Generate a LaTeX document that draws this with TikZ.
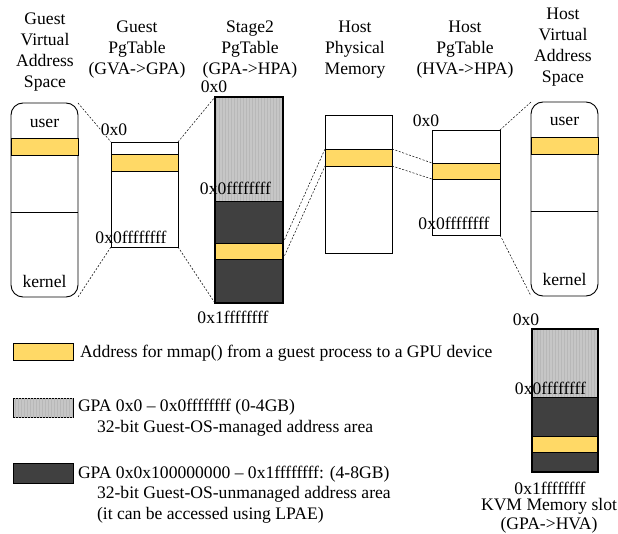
\documentclass[tikz,border=0pt]{standalone}
\usepackage{fontspec}
\setmainfont{Liberation Serif}
\usetikzlibrary{positioning,patterns}
\definecolor{mmapyellow}{RGB}{255,217,102}
\definecolor{gpadark}{RGB}{64,64,64}
\definecolor{gpagray}{RGB}{198,198,198}

\begin{document}
\begin{tikzpicture}[x=1pt,y=-1pt,
	every node/.style={font=\fontsize{17.6}{21}\selectfont, inner sep=0pt, outer sep=0pt},
	title/.style={align=center},
	region/.style={draw, line width=0.9pt},
	memmap/.style={region, fill=mmapyellow},
	lowmem/.style={region, fill=gpagray, postaction={pattern=vertical lines, pattern color=black!28}},
	highmem/.style={region, fill=gpadark},
	vaspace/.style={region, rounded corners=12pt},
	link/.style={dash pattern=on 2pt off 1.6pt, line width=0.5pt}]
	
	\useasboundingbox (0,0) rectangle (618,534);
	
	%% titles
	\node[title] (gvatitle) at (45,52.5) {Guest\\Virtual\\Address\\Space};
	\node[title] (gpttitle) at (137,49.5) {Guest\\PgTable\\(GVA->GPA)};
	\node[title] (s2title) at (250,49.5) {Stage2\\PgTable\\(GPA->HPA)};
	\node[title] (hpmtitle) at (355,49.5) {Host\\Physical\\Memory};
	\node[title] (hpttitle) at (465,49.5) {Host\\PgTable\\(HVA->HPA)};
	\node[title] (hvatitle) at (563,47.5) {Host\\Virtual\\Address\\Space};
	
	%% guest virtual address space
	\node[vaspace, minimum width=67, minimum height=194] (gva) at (44.5,200) {};
	\node[memmap, minimum width=67, minimum height=17] (gvammap) at (44.5,146.5) {};
	\draw[line width=0.9pt] (11,212) -- (78,212);
	\node (gvauser) at (44.5,123) {user};
	\node (gvakernel) at (44.5,281) {kernel};
	
	%% guest page table
	\node[region, minimum width=67, minimum height=105] (gpt) at (144.5,194.5) {};
	\node[memmap, minimum width=67, minimum height=17] (gptmmap) at (144.5,162.5) {};
	
	%% stage2 page table
	\node[lowmem, minimum width=68, minimum height=104] (s2low) at (249,149) {};
	\node[highmem, minimum width=68, minimum height=102] (s2high) at (249,252) {};
	\node[memmap, minimum width=68, minimum height=16] (s2mmap) at (249,251) {};
	\node[region, line width=1.3pt, minimum width=68, minimum height=206] (s2) at (249,200) {};
	
	%% host physical memory
	\node[region, minimum width=67, minimum height=138] (hpm) at (358.5,184) {};
	\node[memmap, minimum width=67, minimum height=17] (hpmmmap) at (358.5,157.5) {};
	
	%% host page table
	\node[region, minimum width=68, minimum height=105] (hpt) at (466,182.5) {};
	\node[memmap, minimum width=68, minimum height=16] (hptmmap) at (466,171) {};
	
	%% host virtual address space
	\node[vaspace, minimum width=67, minimum height=194] (hva) at (564.5,199) {};
	\node[memmap, minimum width=67, minimum height=17] (hvammap) at (564.5,145.5) {};
	\draw[line width=0.9pt] (531,211) -- (598,211);
	\node (hvauser) at (564.5,121) {user};
	\node (hvakernel) at (564.5,279) {kernel};
	
	%% kvm memory slot
	\node[lowmem, minimum width=66, minimum height=68] (kvmlow) at (565,363) {};
	\node[highmem, minimum width=66, minimum height=75] (kvmhigh) at (565,434.5) {};
	\node[memmap, minimum width=66, minimum height=16] (kvmmmap) at (565,444) {};
	\node[region, line width=1.3pt, minimum width=66, minimum height=143] (kvm) at (565,400.5) {};
	
	%% dashed mappings
	\draw[link] (gva.north east) -- (gpt.north west);
	\draw[link] (gva.south east) -- (gpt.south west);
	\draw[link] (gpt.north east) -- (s2.north west);
	\draw[link] (gpt.south east) -- (s2.south west);
	\draw[link] (s2mmap.north east) -- (hpmmmap.north west);
	\draw[link] (s2mmap.south east) -- (hpmmmap.south west);
	\draw[link] (hpmmmap.north east) -- (hptmmap.north west);
	\draw[link] (hpmmmap.south east) -- (hptmmap.south west);
	\draw[link] (hpt.north east) -- (hva.north west);
	\draw[link] (hpt.south east) -- (hva.south west);
	
	%% address labels
	\node[fill=white] (gptstart) at (114,130) {0x0};
	\node (gptend) at (131,237) {0x0ffffffff};
	\node (s2start) at (214,87) {0x0};
	\node (s2mid) at (235.5,188) {0x0ffffffff};
	\node (s2end) at (233,317) {0x1ffffffff};
	\node (hptstart) at (426,121) {0x0};
	\node (hptend) at (454,223) {0x0ffffffff};
	\node (kvmstart) at (526,320) {0x0};
	\node (kvmmid) at (550.5,388) {0x0ffffffff};
	\node (kvmend) at (550,488) {0x1ffffffff};
	\node (kvmname) at (549,506) {KVM Memory slot};
	\node (kvmmap) at (549,525.5) {(GPA->HVA)};
	
	%% legend
	\node[memmap, minimum width=60, minimum height=17] (keymmap) at (43,351.5) {};
	\node[anchor=west] (keymmaptext) at (80,353) {Address for mmap() from a guest process to a GPU device};
	\node[lowmem, minimum width=60, minimum height=19] (keylow) at (43,407.5) {};
	\node[anchor=west] (keylowtext) at (78,407) {GPA 0x0 -- 0x0ffffffff (0-4GB)};
	\node[anchor=west] (keylownote) at (97,428) {32-bit Guest-OS-managed address area};
	\node[highmem, minimum width=60, minimum height=20] (keyhigh) at (43,473) {};
	\node[anchor=west] (keyhightext) at (78,474) {GPA 0x0x100000000 -- 0x1ffffffff: (4-8GB)};
	\node[anchor=west] (keyhighnote) at (97,494.5) {32-bit Guest-OS-unmanaged address area};
	\node[anchor=west] (keyhighlpae) at (97,515.5) {(it can be accessed using LPAE)};
	
\end{tikzpicture}
\end{document}
